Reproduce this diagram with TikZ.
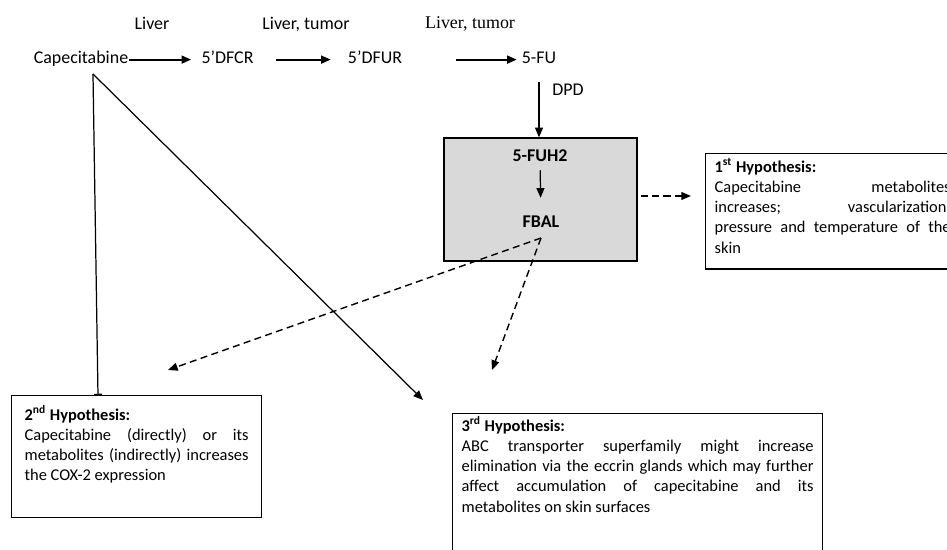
\documentclass[tikz,border=0pt]{standalone}
\usepackage{fontspec}
\setmainfont{Carlito}
\newfontfamily\timesfont{Liberation Serif}
\usetikzlibrary{arrows.meta, calc}
\definecolor{boxGray}{HTML}{D9D9D9}
\newcommand{\rowfont}{\fontsize{10.2}{12}\selectfont}
\newcommand{\hypfont}{\fontsize{9.35}{11.5}\selectfont}
\newcommand{\boxfloor}[1]{\rule[-#1]{0pt}{0pt}}
\tolerance=10000
\tikzset{
  >={Triangle[length=5.5pt, width=4.5pt]},
  lbl/.style={inner sep=0pt, font=\rowfont, text height=7pt, text depth=2pt, anchor=base},
  flow/.style={->, line width=1.1pt},
  link/.style={line width=0.7pt},
  dflow/.style={->, line width=0.8pt, dash pattern=on 4pt off 2.5pt},
  greybox/.style={draw, line width=0.75pt, fill=boxGray,
    minimum width=3.86cm, minimum height=2.46cm},
  hypbox/.style={draw, line width=0.75pt, anchor=north west, align=justify,
    font=\hypfont, inner xsep=0.18cm},
}

\begin{document}
\begin{tikzpicture}[x=0.02cm, y=-0.02cm]
  \useasboundingbox (0,0) rectangle (947,550);
  \clip (0,0) rectangle (947,550);

  % ---- Pathway -----------------------------------------------------------
  \node[lbl] (liv1) at (152,30)   {Liver};
  \node[lbl] (liv2) at (306,30)   {Liver, tumor};
  \node[lbl, font=\rowfont\timesfont] (liv3) at (470,29) {Liver, tumor};

  \node[lbl] (cape) at (81,64)    {Capecitabine};
  \node[lbl] (dfcr) at (227.5,64) {5’DFCR};
  \node[lbl] (dfur) at (375,64)   {5’DFUR};
  \node[lbl] (fu)   at (539,64)   {5-FU};
  \node[lbl] (dpd)  at (568,96)   {DPD};

  \node[greybox] (grey) at (540.5,199.5) {};
  \node[lbl, font=\rowfont\bfseries] (fuh2) at (540,162) {5-FUH2};
  \node[lbl, font=\rowfont\bfseries] (fbal) at (541,228) {FBAL};

  % ---- Hypotheses --------------------------------------------------------
  \node[hypbox, text width=4.72cm, inner ysep=2.7pt] (hyp1) at (705,153)
    {\textbf{1\textsuperscript{st} Hypothesis:}\par
     Capecitabine metabolites\linebreak increases; vascularization,\linebreak
     pressure and temperature of the\linebreak skin\boxfloor{6.3pt}};
  \node[hypbox, text width=4.48cm, inner xsep=0.26cm, inner ysep=5.5pt] (hyp2) at (11,395)
    {\textbf{2\textsuperscript{nd} Hypothesis:}\par
     Capecitabine (directly) or its\linebreak metabolites (indirectly) increases\linebreak
     the COX-2 expression\boxfloor{15.5pt}};
  \node[hypbox, text width=7.04cm, inner ysep=1.6pt] (hyp3) at (452,413)
    {\textbf{3\textsuperscript{rd} Hypothesis:}\par
     ABC transporter superfamily might increase\linebreak
     elimination via the eccrin glands which may further\linebreak
     affect accumulation of capecitabine and its\linebreak
     metabolites on skin surfaces\boxfloor{40pt}};

  \coordinate (split) at (93,74);
  \coordinate (tip1)  at (423,400);
  \coordinate (fork)  at ([yshift=-3.5pt]fbal.south);
  \coordinate (tip2)  at (168,370);
  \coordinate (tip3)  at (492,370);

  % ---- Edges -------------------------------------------------------------
  \draw[flow, shorten >=5.7pt] (cape) -- (dfcr);
  \draw[flow, shorten <=12.5pt, shorten >=9.6pt] (dfcr) -- (dfur);
  \draw[flow, shorten <=30.6pt, shorten >=2.7pt] (dfur) -- (fu);
  \draw[link, ->, shorten <=8.2pt] (fu.south) -- (fu.south |- grey.north);
  \draw[link, ->, shorten <=2.5pt, shorten >=10pt] (fuh2) -- (fbal);

  % capecitabine acts directly on hypotheses 2 and 3
  \draw[link, -{Bar[width=4.5pt]}] (split) -- ([xshift=1.74cm]hyp2.north west);
  \draw[link, ->] (split) -- (tip1);

  % metabolites -> hypotheses
  \draw[dflow, shorten <=1.7pt, shorten >=8pt] ([yshift=2pt]grey.east) -- ([yshift=2pt]grey.east -| hyp1.west);
  \draw[dflow] (fork) -- (tip2);
  \draw[dflow] (fork) -- (tip3);

\end{tikzpicture}
\end{document}
